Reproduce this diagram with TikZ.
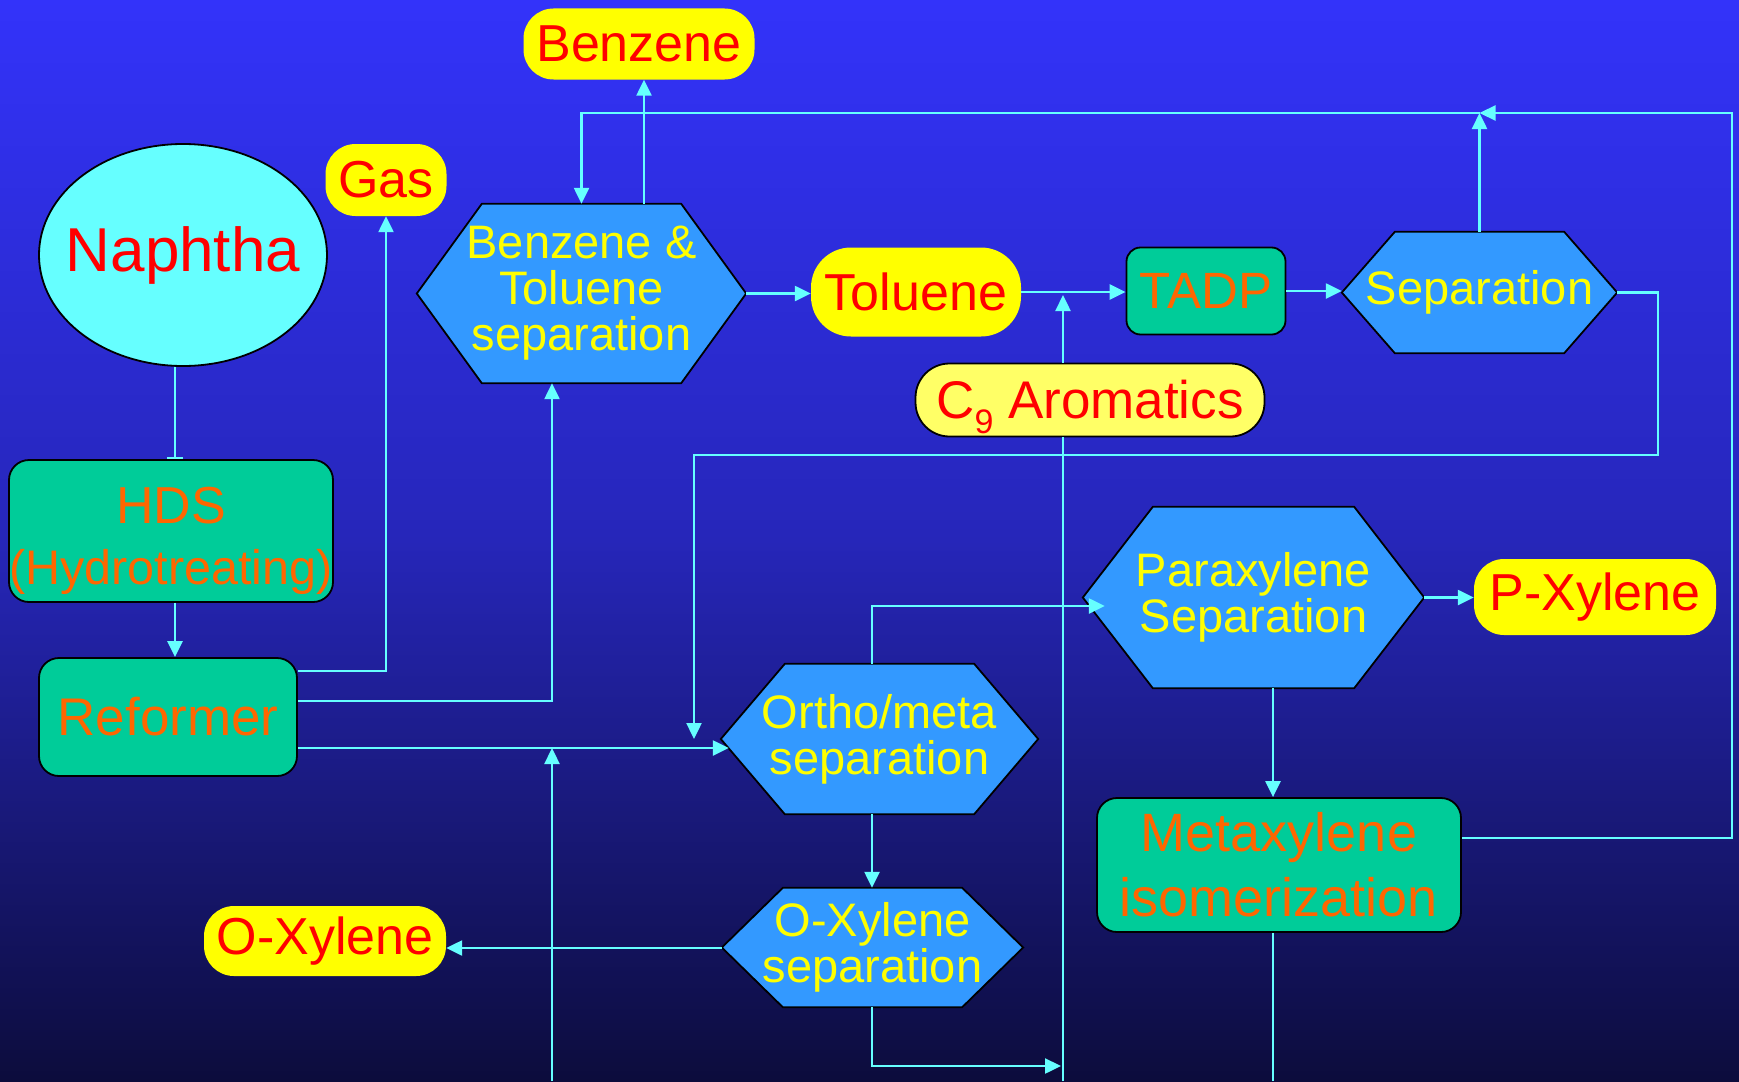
\documentclass[tikz,border=0pt]{standalone}
\usepackage{fontspec}
\setmainfont{Liberation Sans}
\usetikzlibrary{arrows.meta,shapes.geometric,calc}

\definecolor{flowc}{RGB}{102,255,255}
\definecolor{hexfill}{RGB}{51,153,255}
\definecolor{boxfill}{RGB}{0,204,153}
\definecolor{pillfill}{RGB}{255,255,0}
\definecolor{pilllight}{RGB}{255,255,102}
\definecolor{txtred}{RGB}{255,0,0}
\definecolor{txtorange}{RGB}{255,102,0}
\definecolor{txtyellow}{RGB}{255,255,0}
\definecolor{naphfill}{RGB}{102,255,255}
\definecolor{bgtop}{RGB}{51,51,250}
\definecolor{bgmid}{RGB}{38,38,185}
\definecolor{bgbot}{RGB}{12,12,60}

\pgfdeclarelayer{bglayer}
\pgfdeclarelayer{shapelayer}
\pgfsetlayers{bglayer,shapelayer,main}

\tikzset{
  flow/.style={draw=flowc, line width=2.4pt, -{Triangle[length=16pt,width=15pt]}},
  plain/.style={draw=flowc, line width=2.4pt},
  pill/.style={fill=pillfill, rounded corners=30pt, inner sep=0pt, text=txtred,
    font=\fontsize{52}{56}\selectfont},
  procbox/.style={fill=boxfill, draw=black, line width=1.8pt, rounded corners=20pt,
    inner sep=0pt, text=txtorange, align=center},
  hexbox/.style={inner sep=0pt, text=txtyellow, align=center,
    font=\fontsize{47}{46}\selectfont},
  hexline/.style={fill=hexfill, draw=black, line width=1.8pt, line join=miter},
}

\newcommand\hexshape[2]{%
  \begin{pgfonlayer}{shapelayer}
  \path[hexline] (#1.west) -- ([xshift=#2]#1.north west) -- ([xshift=-#2]#1.north east)
    -- (#1.east) -- ([xshift=-#2]#1.south east) -- ([xshift=#2]#1.south west) -- cycle;
  \end{pgfonlayer}}

\begin{document}
\begin{tikzpicture}[x=1pt,y=-1pt]
\useasboundingbox (0,0) rectangle (1739,1081);
\begin{pgfonlayer}{bglayer}
\shade[top color=bgtop, bottom color=bgbot, middle color=bgmid] (0,0) rectangle (1739,1081);
\end{pgfonlayer}

% nodes
\node[draw=black, line width=1.8pt, fill=naphfill, ellipse, minimum width=288pt,
  minimum height=222pt, inner sep=0pt, text=txtred, font=\fontsize{62}{62}\selectfont]
  (naphtha) at (183,255) {\makebox[0pt]{Naphtha}};

\node[pill, minimum width=231pt, minimum height=71pt] (benzene) at (639,44) {Benzene};
\node[pill, minimum width=121pt, minimum height=72pt] (gas) at (386,180) {Gas};
\node[pill, rounded corners=40pt, minimum width=210pt, minimum height=89pt] (toluene) at (916,292) {Toluene};
\node[pill, fill=pilllight, draw=black, line width=1.8pt, rounded corners=34pt,
  font=\fontsize{53}{56}\selectfont,
  minimum width=349pt, minimum height=73pt] (c9) at (1090,400)
  {C\smash{\raisebox{-0.28em}{\fontsize{34}{34}\selectfont 9}} Aromatics};
\node[pill, minimum width=242pt, minimum height=76pt] (pxyl) at (1595,597) {P-Xylene};
\node[pill, minimum width=242pt, minimum height=70pt] (oxyl) at (325,941) {O-Xylene};

\node[procbox, minimum width=324pt, minimum height=142pt, font=\fontsize{52}{61}\selectfont]
  (hds) at (171,531) {\rule{0pt}{56pt}HDS\\{\fontsize{48.5}{48}\selectfont (Hydrotreating)}};
\node[procbox, minimum width=258pt, minimum height=118pt, font=\fontsize{53}{53}\selectfont]
  (reformer) at (168,717) {Reformer};
\node[procbox, rounded corners=14pt, minimum width=159pt, minimum height=87pt,
  font=\fontsize{51}{51}\selectfont] (tadp) at (1206,291) {TADP};
\node[procbox, minimum width=364pt, minimum height=134pt, font=\fontsize{54}{65}\selectfont]
  (mx) at (1279,865) {Metaxylene\\isomerization};

\node[hexbox, minimum width=329pt, minimum height=179pt] (bt) at (581.5,293.5)
  {Benzene \&\\Toluene\\separation};
\hexshape{bt}{65pt}
\node[hexbox, minimum width=275pt, minimum height=121pt] (sep) at (1479.5,292.5) {Separation};
\hexshape{sep}{53pt}
\node[hexbox, minimum width=341pt, minimum height=181pt] (para) at (1253.5,597.5)
  {Paraxylene\\Separation};
\hexshape{para}{70pt}
\node[hexbox, minimum width=317pt, minimum height=150pt] (om) at (879.5,739)
  {Ortho/meta\\separation};
\hexshape{om}{64pt}
\node[hexbox, minimum width=301pt, minimum height=119pt] (ox) at (872.5,947.5)
  {O-Xylene\\separation};
\hexshape{ox}{61pt}

% helper coordinates
\coordinate (xA) at (552,0);
\coordinate (xB) at (644,0);
\coordinate (xN) at (175,0);
\coordinate (xD) at (1063,0);
\coordinate (xE) at (872,0);
\coordinate (xF) at (1658,0);
\coordinate (xH) at (694,0);
\coordinate (xI) at (1273,0);
\coordinate (yR1) at (0,671);
\coordinate (yR2) at (0,701);
\coordinate (yR3) at (0,748);
\coordinate (yG) at (0,455);
\coordinate (yP) at (0,606);
\coordinate (yOX) at (0,948);
\coordinate (yOB) at (0,1066);
\coordinate (yMX) at (0,838);
\coordinate (tr) at (1732,113);
\coordinate (tj) at (1479.5,113);
\coordinate (botA) at (552,1081);
\coordinate (botD) at (1063,1081);
\coordinate (botI) at (1273,1081);

% connectors
\draw[plain, -{Bar[width=16pt,line width=2pt]}] (naphtha.south -| xN) -- (hds.north -| xN);
\draw[flow] (hds.south -| xN) -- (reformer.north -| xN);
\draw[flow] (reformer.east |- yR1) -| (gas.south);
\draw[flow] (reformer.east |- yR2) -| (bt.south -| xA);
\draw[flow] (reformer.east |- yR3) -- ([xshift=8pt]om.west |- yR3);
\draw[flow] (botA) -- (xA |- yR3);
\draw[flow] (bt.north -| xB) -- (benzene.south -| xB);
\draw[flow] (mx.east |- yMX) -| (tr) -- (tj);
\draw[flow] (sep.north) -- (tj);
\draw[flow] (tj) -| (bt.north);
\draw[flow] (bt.east) -- (bt.east -| toluene.west);
\draw[flow] (toluene.east) -- (toluene.east -| tadp.west);
\draw[flow] (c9.north -| xD) -- ([yshift=-3pt]xD |- toluene.east);
\draw[plain] (botD) -- (c9.south -| xD);
\draw[flow] (ox.south -| xE) |- ([xshift=-2pt]xD |- yOB);
\draw[flow] (tadp.east) -- (tadp.east -| sep.west);
\draw[flow] (sep.east) -| (xF |- yG) -| (xH |- om.west);
\draw[flow] (om.north -| xE) |- ([xshift=22pt]para.west |- yP);
\draw[flow] (om.south -| xE) -- (ox.north -| xE);
\draw[flow] (ox.west |- yOX) -- (oxyl.east |- yOX);
\draw[flow] (para.east) -- (para.east -| pxyl.west);
\draw[flow] (para.south -| xI) -- (mx.north -| xI);
\draw[plain] (mx.south -| xI) -- (botI);
\end{tikzpicture}
\end{document}
